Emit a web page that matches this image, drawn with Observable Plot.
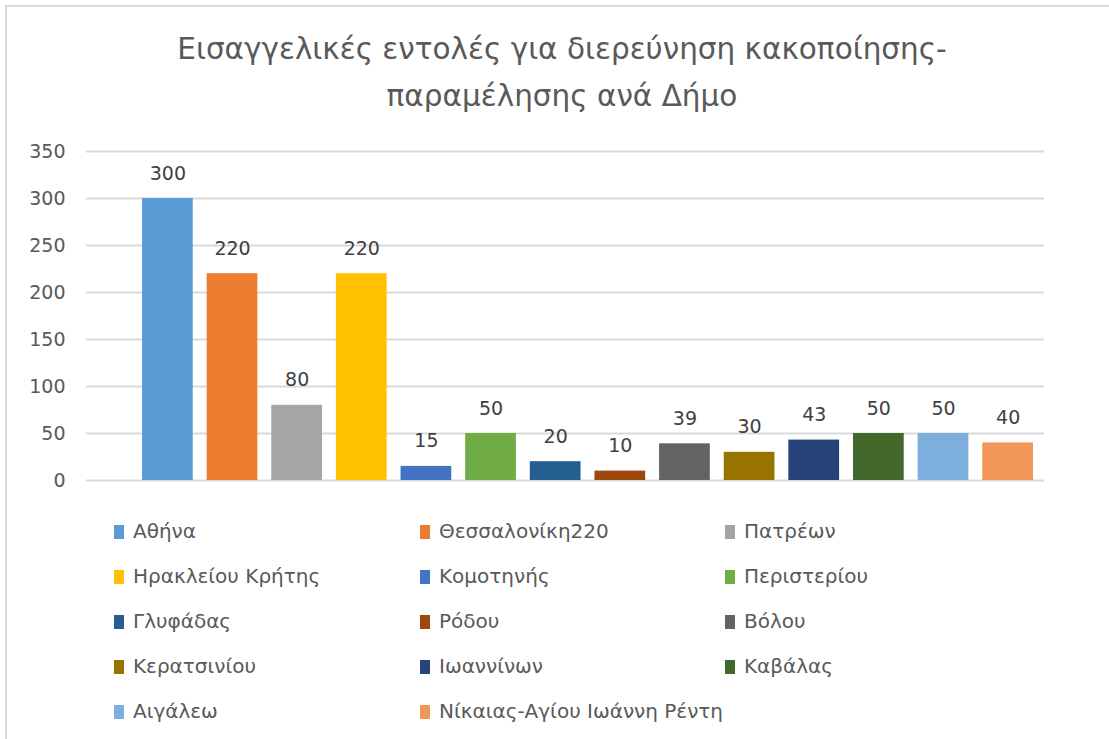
<!DOCTYPE html>
<html>
<head>
<meta charset="utf-8">
<script src="https://cdn.jsdelivr.net/npm/d3@7"></script>
<script src="https://cdn.jsdelivr.net/npm/@observablehq/plot@0.6"></script>
<style>
  html, body { margin: 0; padding: 0; background: #fff; }
  body { width: 1109px; height: 739px; position: relative; overflow: hidden; font-family: "DejaVu Sans", "Open Sans", sans-serif; }
  #frame { position: absolute; left: 5px; top: 5px; width: 1200px; height: 800px; border-left: 2px solid #d9d9d9; border-top: 2px solid #d9d9d9; box-sizing: border-box; }
  #title { position: absolute; left: 5px; width: 1114px; top: 26px; text-align: center; font-size: 29.5px; line-height: 47px; color: #595959; }
  #chart { position: absolute; left: 0; top: 130px; }
  #legend { position: absolute; left: 0; top: 508px; width: 1109px; }
  .item { position: absolute; font-size: 20px; color: #595959; white-space: nowrap; line-height: 24px; }
  .sw { display: inline-block; width: 10px; height: 14px; margin-right: 9px; vertical-align: -1px; }
</style>
</head>
<body>
<div id="frame"></div>
<div id="title">Εισαγγελικές εντολές για διερεύνηση κακοποίησης-<br>παραμέλησης ανά Δήμο</div>
<div id="chart"></div>
<div id="legend"></div>
<script>
const categories = ["Αθήνα", "Θεσσαλονίκη220", "Πατρέων", "Ηρακλείου Κρήτης", "Κομοτηνής", "Περιστερίου", "Γλυφάδας", "Ρόδου", "Βόλου", "Κερατσινίου", "Ιωαννίνων", "Καβάλας", "Αιγάλεω", "Νίκαιας-Αγίου Ιωάννη Ρέντη"];
const values = [300, 220, 80, 220, 15, 50, 20, 10, 39, 30, 43, 50, 50, 40];
const colors = ["#5b9bd5", "#ed7d31", "#a5a5a5", "#ffc000", "#4472c4", "#70ad47", "#255e91", "#9e480e", "#636363", "#997300", "#264478", "#43682b", "#7cafdd", "#f1975a"];
const yTicks = [0, 50, 100, 150, 200, 250, 300, 350];

const data = categories.map((c, i) => ({name: c, value: values[i]}));

const plot = Plot.plot({
  width: 1109,
  height: 360,
  marginTop: 21,
  marginBottom: 10,
  marginLeft: 86,
  marginRight: 65,
  style: {fontFamily: "'DejaVu Sans', 'Open Sans', sans-serif", background: "transparent"},
  x: {domain: categories, range: [142, 1033], paddingInner: 0.215, paddingOuter: 0, round: false, axis: null},
  y: {domain: [0, 350], ticks: yTicks},
  color: {domain: categories, range: colors},
  marks: [
    Plot.ruleY(yTicks, {stroke: "#d9d9d9", strokeWidth: 2}),
    Plot.axisY({ticks: yTicks, tickSize: 0, tickPadding: 21, fontSize: 19, fill: "#595959", label: null}),
    Plot.barY(data, {x: "name", y: "value", fill: "name"}),
    Plot.text(data, {x: "name", y: "value", text: d => String(d.value), dy: -25, fontSize: 19, fill: "#404040"})
  ]
});
document.getElementById("chart").appendChild(plot);

const legend = document.getElementById("legend");
const colX = [114, 420, 725];
const rowStep = 45;
categories.forEach((c, i) => {
  const div = document.createElement("div");
  div.className = "item";
  div.style.left = colX[i % 3] + "px";
  div.style.top = (Math.floor(i / 3) * rowStep + 11) + "px";
  const sw = document.createElement("span");
  sw.className = "sw";
  sw.style.background = colors[i];
  div.appendChild(sw);
  div.appendChild(document.createTextNode(c));
  legend.appendChild(div);
});
</script>
</body>
</html>
